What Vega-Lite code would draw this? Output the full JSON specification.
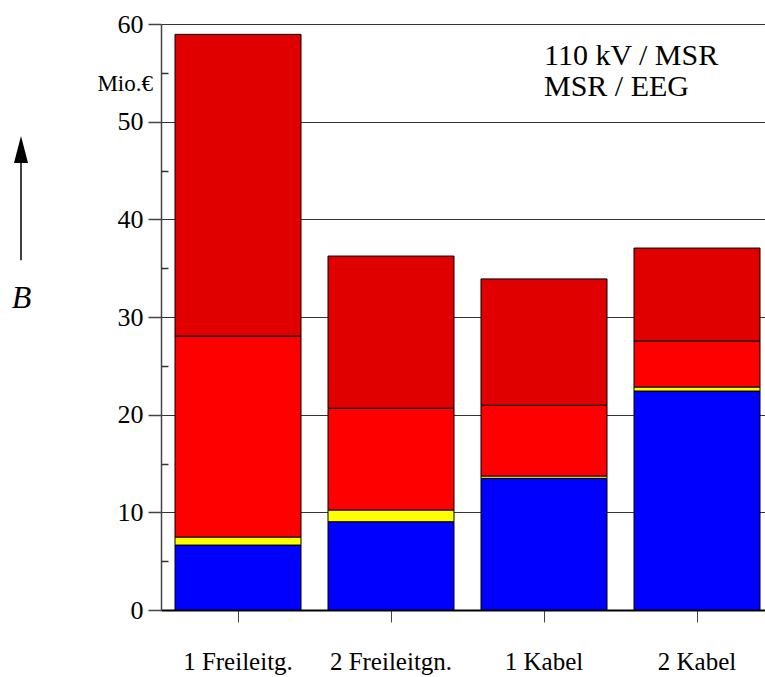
{
  "$schema": "https://vega.github.io/schema/vega-lite/v6.json",
  "width": 604,
  "height": 586,
  "autosize": {"type": "none"},
  "padding": {"left": 161, "top": 24, "right": 0, "bottom": 67},
  "background": "white",
  "config": {"view": {"stroke": null}, "font": "Times New Roman, Liberation Serif, serif"},
  "resolve": {"axis": {"y": "independent"}},
  "layer": [
    {
      "data": {
        "values": [
          {"variant": "1 Freileitg.", "part": "1", "order": 1, "value": 6.65},
          {"variant": "1 Freileitg.", "part": "2", "order": 2, "value": 0.82},
          {"variant": "1 Freileitg.", "part": "3", "order": 3, "value": 20.58},
          {"variant": "1 Freileitg.", "part": "4", "order": 4, "value": 30.89},
          {"variant": "2 Freileitgn.", "part": "1", "order": 1, "value": 9.04},
          {"variant": "2 Freileitgn.", "part": "2", "order": 2, "value": 1.2},
          {"variant": "2 Freileitgn.", "part": "3", "order": 3, "value": 10.41},
          {"variant": "2 Freileitgn.", "part": "4", "order": 4, "value": 15.59},
          {"variant": "1 Kabel", "part": "1", "order": 1, "value": 13.48},
          {"variant": "1 Kabel", "part": "2", "order": 2, "value": 0.24},
          {"variant": "1 Kabel", "part": "3", "order": 3, "value": 7.24},
          {"variant": "1 Kabel", "part": "4", "order": 4, "value": 12.94},
          {"variant": "2 Kabel", "part": "1", "order": 1, "value": 22.42},
          {"variant": "2 Kabel", "part": "2", "order": 2, "value": 0.41},
          {"variant": "2 Kabel", "part": "3", "order": 3, "value": 4.71},
          {"variant": "2 Kabel", "part": "4", "order": 4, "value": 9.52}
        ]
      },
      "mark": {"type": "bar", "stroke": "black", "strokeWidth": 1},
      "encoding": {
        "x": {
          "field": "variant",
          "type": "nominal",
          "sort": ["1 Freileitg.", "2 Freileitgn.", "1 Kabel", "2 Kabel"],
          "scale": {"paddingInner": 0.1765, "paddingOuter": 0.0621, "align": 0.737},
          "axis": {
            "title": null,
            "labelAngle": 0,
            "labelFontSize": 25,
            "labelColor": "black",
            "labelFont": "Times New Roman, Liberation Serif, serif",
            "labelPadding": 27,
            "tickSize": 12,
            "tickColor": "#444",
            "domainColor": "black",
            "domainWidth": 2,
            "grid": false
          }
        },
        "y": {
          "field": "value",
          "type": "quantitative",
          "stack": "zero",
          "scale": {"domain": [0, 60], "nice": false},
          "axis": {
            "orient": "left",
            "values": [0, 10, 20, 30, 40, 50, 60],
            "title": "B",
            "titleAngle": 0,
            "titleFont": "Times New Roman, Liberation Serif, serif",
            "titleFontStyle": "italic",
            "titleFontWeight": "normal",
            "titleFontSize": 32,
            "titleColor": "black",
            "titleX": -140,
            "titleY": 283,
            "titleAlign": "center",
            "titleBaseline": "alphabetic",
            "labelFontSize": 26,
            "labelFont": "Times New Roman, Liberation Serif, serif",
            "labelColor": "black",
            "labelPadding": 5,
            "labelFlush": false,
            "tickSize": 13,
            "tickColor": "#444",
            "tickWidth": 1.5,
            "grid": true,
            "gridColor": "#333",
            "gridWidth": 1,
            "domainColor": "#444",
            "domainWidth": 1.5
          }
        },
        "color": {
          "field": "part",
          "type": "nominal",
          "scale": {"domain": ["1", "2", "3", "4"], "range": ["#0000FF", "#FFFF00", "#FF0000", "#E00000"]},
          "legend": null
        },
        "order": {"field": "order", "type": "quantitative"}
      }
    },
    {
      "data": {"values": [{"label": "Mio.€"}]},
      "mark": {"type": "text", "align": "right", "baseline": "alphabetic", "fontSize": 23, "font": "Times New Roman, Liberation Serif, serif", "color": "black", "x": -8},
      "encoding": {
        "y": {
          "datum": 53.17,
          "type": "quantitative",
          "axis": {
            "orient": "left",
            "values": [5, 15, 25, 35, 45, 55],
            "offset": -7,
            "tickSize": 7,
            "tickColor": "#333",
            "tickWidth": 1.5,
            "labels": false,
            "domain": false,
            "grid": false,
            "title": null
          }
        },
        "text": {"field": "label"}
      }
    },
    {
      "data": {"values": [{"line": "110 kV / MSR"}]},
      "mark": {"type": "text", "align": "left", "baseline": "alphabetic", "fontSize": 30, "font": "Times New Roman, Liberation Serif, serif", "color": "black", "lineHeight": 31, "text": ["110 kV / MSR", "MSR / EEG"]},
      "encoding": {
        "x": {"datum": "1 Kabel", "type": "nominal"},
        "y": {"datum": 55.8, "type": "quantitative", "axis": null}
      }
    },
    {
      "data": {"values": [{"arrow": "B"}]},
      "mark": {"type": "rule", "stroke": "black", "strokeWidth": 1.5, "x": -140},
      "encoding": {
        "y": {"datum": 35.8, "type": "quantitative", "axis": null},
        "y2": {"datum": 45.77}
      }
    },
    {
      "data": {"values": [{"arrow": "B"}]},
      "mark": {"type": "point", "shape": "M0,-1L0.52,1L-0.52,1Z", "size": 729, "filled": true, "fill": "black", "stroke": null, "opacity": 1, "x": -140},
      "encoding": {
        "y": {"datum": 47.15, "type": "quantitative", "axis": null}
      }
    }
  ]
}
